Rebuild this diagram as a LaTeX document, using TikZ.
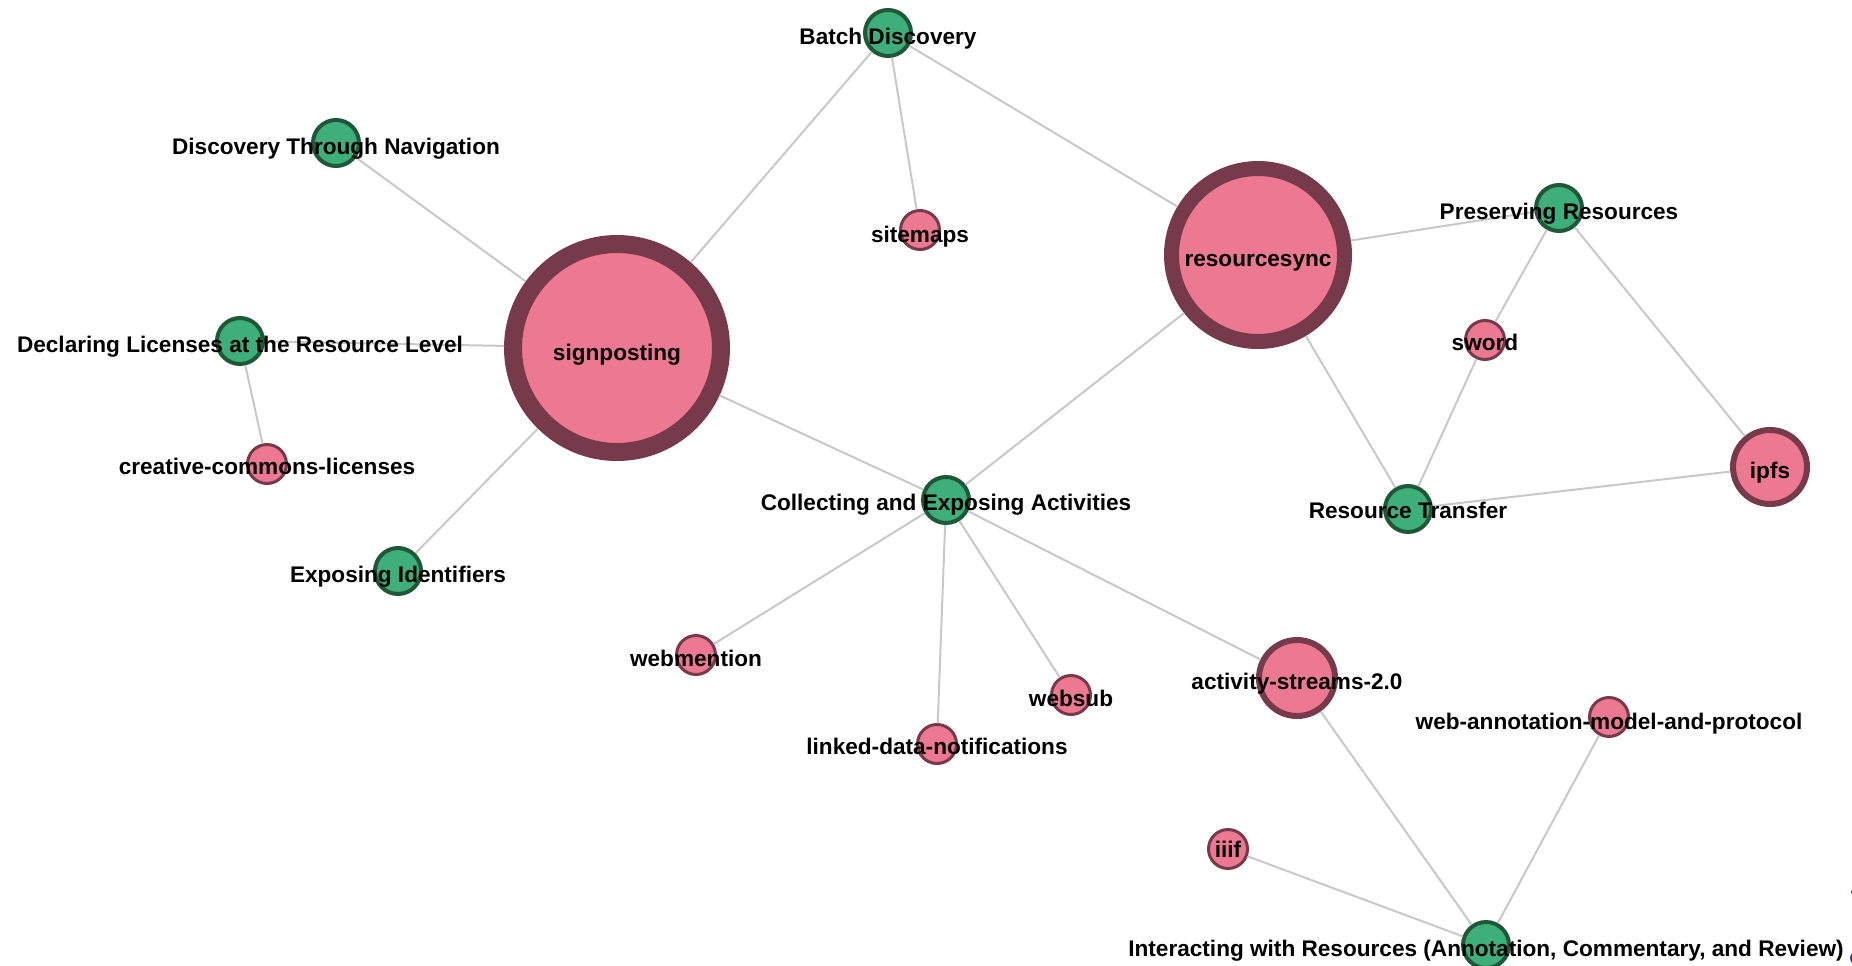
\documentclass[tikz,border=0pt]{standalone}
\usepackage{fontspec}
\setmainfont{Liberation Sans}
\definecolor{pinkfill}{RGB}{237,120,146}
\definecolor{pinkedge}{RGB}{118,58,74}
\definecolor{greenfill}{RGB}{62,174,122}
\definecolor{greenedge}{RGB}{30,88,55}
\definecolor{linkgray}{RGB}{200,200,200}
\definecolor{offblue}{RGB}{40,60,170}
\begin{document}
\begin{tikzpicture}[x=1pt,y=-1pt,
  pinknode/.style={circle,fill=pinkfill,draw=pinkedge,inner sep=0pt},
  hugepink/.style={pinknode,minimum size=#1},
  smallpink/.style={pinknode,line width=3pt,minimum size=39pt},
  greennode/.style={circle,fill=greenfill,draw=greenedge,line width=4pt,inner sep=0pt,minimum size=46pt},
  lbl/.style={font=\bfseries\fontsize{22.6}{26}\selectfont,anchor=base,inner sep=0pt},
  link/.style={draw=linkgray,line width=2pt}]
\useasboundingbox (0,0) rectangle (1852,966);
\begin{scope}
\clip (0,0) rectangle (1852,966);
% big pink nodes
\node[hugepink=208pt,line width=18pt] (sp) at (617,348) {};
\node[hugepink=173pt,line width=15pt] (rs) at (1258,255) {};
\node[hugepink=74pt,line width=6pt] (ipfs) at (1770,467) {};
\node[hugepink=76pt,line width=6pt] (as2) at (1297,678) {};
% small pink nodes
\node[smallpink] (sm) at (920,230) {};
\node[smallpink] (ccl) at (267,464) {};
\node[smallpink] (wm) at (696,655) {};
\node[smallpink] (ldn) at (937,744) {};
\node[smallpink] (ws) at (1071,695) {};
\node[smallpink] (sword) at (1485,340) {};
\node[smallpink] (iiif) at (1228,849) {};
\node[smallpink] (wa) at (1609,717) {};
% green nodes
\node[greennode] (bd) at (888,33) {};
\node[greennode] (dtn) at (336,143) {};
\node[greennode] (dl) at (240,341) {};
\node[greennode] (ei) at (398,571) {};
\node[greennode] (cea) at (946,500) {};
\node[greennode] (pr) at (1559,208) {};
\node[greennode] (rt) at (1408,509) {};
\node[greennode] (iwr) at (1486,945) {};
% links
\draw[link] (bd) -- (sp);
\draw[link] (bd) -- (sm);
\draw[link] (bd) -- (rs);
\draw[link] (dtn) -- (sp);
\draw[link] (dl) -- (sp);
\draw[link] (dl) -- (ccl);
\draw[link] (ei) -- (sp);
\draw[link] (sp) -- (cea);
\draw[link] (rs) -- (cea);
\draw[link] (rs) -- (pr);
\draw[link] (rs) -- (rt);
\draw[link] (pr) -- (sword);
\draw[link] (pr) -- (ipfs);
\draw[link] (sword) -- (rt);
\draw[link] (rt) -- (ipfs);
\draw[link] (cea) -- (wm);
\draw[link] (cea) -- (ldn);
\draw[link] (cea) -- (ws);
\draw[link] (cea) -- (as2);
\draw[link] (as2) -- (iwr);
\draw[link] (iiif) -- (iwr);
\draw[link] (wa) -- (iwr);
% labels
\node[lbl] (spl) at ([yshift=-12pt]sp.center) {signposting};
\node[lbl] (rsl) at ([yshift=-11.5pt]rs.center) {resourcesync};
\node[lbl] (ipfsl) at ([yshift=-11pt]ipfs.center) {ipfs};
\node[lbl] (as2l) at ([yshift=-11pt]as2.center) {activity-streams-2.0};
\node[lbl] (sml) at ([yshift=-12pt]sm.center) {sitemaps};
\node[lbl] (ccll) at ([yshift=-10pt]ccl.center) {creative-commons-licenses};
\node[lbl] (wml) at ([yshift=-11pt]wm.center) {webmention};
\node[lbl] (ldnl) at ([yshift=-10pt]ldn.center) {linked-data-notifications};
\node[lbl] (wsl) at ([yshift=-11pt]ws.center) {websub};
\node[lbl] (swordl) at ([yshift=-10pt]sword.center) {sword};
\node[lbl] (iiifl) at ([yshift=-8pt]iiif.center) {iiif};
\node[lbl] (wal) at ([yshift=-12pt]wa.center) {web-annotation-model-and-protocol};
\node[lbl] (bdl) at ([yshift=-12pt]bd.center) {Batch Discovery};
\node[lbl] (dtnl) at ([yshift=-11pt]dtn.center) {Discovery Through Navigation};
\node[lbl] (dll) at ([yshift=-11pt]dl.center) {Declaring Licenses at the Resource Level};
\node[lbl] (eil) at ([yshift=-11pt]ei.center) {Exposing Identifiers};
\node[lbl] (ceal) at ([yshift=-10pt]cea.center) {Collecting and Exposing Activities};
\node[lbl] (prl) at ([yshift=-11pt]pr.center) {Preserving Resources};
\node[lbl] (rtl) at ([yshift=-9pt]rt.center) {Resource Transfer};
\node[lbl] (iwrl) at ([yshift=-11pt]iwr.center) {Interacting with Resources (Annotation, Commentary, and Review)};
% cut-off marks at the right edge
\fill[offblue] (1855,892) circle (4);
\fill[offblue] (1857,958) circle (7);
\end{scope}
\end{tikzpicture}
\end{document}
